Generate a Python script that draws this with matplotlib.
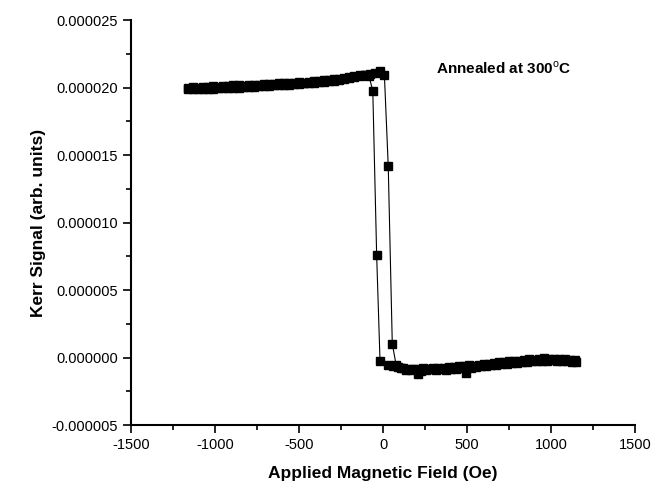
import numpy as np
import matplotlib
matplotlib.use('Agg')
import matplotlib.pyplot as plt
from matplotlib.ticker import MultipleLocator, FormatStrFormatter

plt.rcParams['font.family'] = ['Liberation Sans', 'DejaVu Sans']
plt.rcParams['axes.unicode_minus'] = False
plt.rcParams['mathtext.fontset'] = 'custom'
plt.rcParams['mathtext.rm'] = 'Liberation Sans'
plt.rcParams['mathtext.bf'] = 'Liberation Sans:bold'

# Feld aufsteigend (Oe) und Kerr-Signal (in 1e-6)
h_up = [-1160, -1130, -1100, -1070, -1040, -1010, -980, -950, -920, -890,
        -860, -830, -800, -770, -740, -710, -680, -650, -620, -590,
        -560, -530, -500, -470, -440, -410, -380, -350, -320, -290,
        -260, -230, -200, -170, -140, -110, -80, -50, -20, 8,
        31, 55, 78,
        105, 135, 165, 195, 225, 255, 285, 315, 345, 375,
        405, 435, 465, 495, 525, 555, 585, 615, 645, 675,
        705, 735, 765, 795, 825, 855, 885, 915, 945, 975,
        1005, 1035, 1065, 1095, 1125, 1150]
k_up = [19.98, 20.02, 20.00, 20.05, 20.03, 20.08, 20.06, 20.12, 20.10, 20.15,
        20.18, 20.14, 20.20, 20.22, 20.18, 20.25, 20.28, 20.24, 20.30, 20.33,
        20.30, 20.36, 20.38, 20.35, 20.42, 20.45, 20.48, 20.52, 20.55, 20.60,
        20.65, 20.72, 20.80, 20.88, 20.92, 20.95, 21.00, 21.10, 21.20, 20.95,
        14.15, 1.02, -0.55,
        -0.80, -0.90, -0.95, -0.88, -1.00, -0.95, -0.88, -0.92, -0.85, -0.90,
        -0.82, -0.86, -0.78, -1.15, -0.74, -0.70, -0.66, -0.62, -0.56, -0.58,
        -0.50, -0.46, -0.42, -0.38, -0.35, -0.32, -0.28, -0.25, -0.28, -0.22,
        -0.20, -0.24, -0.22, -0.27, -0.30, -0.32]

# Feld absteigend
h_down = [1140, 1110, 1080, 1050, 1020, 990, 960, 930, 900, 870,
          840, 810, 780, 750, 720, 690, 660, 630, 600, 570,
          540, 510, 480, 450, 420, 390, 360, 330, 300, 270,
          240, 210, 180, 150, 120, 90, 60, 30,
          -18, -38, -61, -84,
          -110, -140, -170, -200, -230, -260, -290, -320, -350, -380,
          -410, -440, -470, -500, -530, -560, -590, -620, -650, -680,
          -710, -740, -770, -800, -830, -860, -890, -920, -950, -980,
          -1010, -1040, -1070, -1100, -1130, -1160]
k_down = [-0.20, -0.15, -0.10, -0.12, -0.08, -0.10, -0.05, -0.10, -0.15, -0.12,
          -0.18, -0.22, -0.28, -0.26, -0.35, -0.33, -0.42, -0.48, -0.46, -0.55,
          -0.60, -0.58, -0.66, -0.63, -0.72, -0.70, -0.75, -0.78, -0.74, -0.82,
          -0.80, -1.20, -0.85, -0.82, -0.78, -0.72, -0.65, -0.52,
          -0.25, 7.58, 19.76, 20.85,
          20.90, 20.85, 20.78, 20.70, 20.62, 20.58, 20.50, 20.45, 20.40, 20.38,
          20.35, 20.32, 20.30, 20.28, 20.25, 20.22, 20.20, 20.18, 20.15, 20.13,
          20.10, 20.08, 20.05, 20.05, 20.02, 20.00, 19.98, 19.96, 19.95, 19.93,
          19.92, 19.90, 19.92, 19.90, 19.88, 19.90]

fig = plt.figure(figsize=(6.65, 4.88), dpi=100)
ax = fig.add_axes([0.197, 0.129, 0.758, 0.830])

for h, k in [(h_up, k_up), (h_down, k_down)]:
    ax.plot(h, np.array(k) * 1e-6, color='black', marker='s', markersize=6.3,
            linewidth=0.8)

ax.set_xlim(-1500, 1500)
ax.set_ylim(-0.000005, 0.000025)
ax.xaxis.set_major_locator(MultipleLocator(500))
ax.xaxis.set_minor_locator(MultipleLocator(250))
ax.yaxis.set_major_locator(MultipleLocator(0.000005))
ax.yaxis.set_minor_locator(MultipleLocator(0.0000025))
ax.yaxis.set_major_formatter(FormatStrFormatter('%.6f'))

for s in ['top', 'right']:
    ax.spines[s].set_visible(False)
for s in ['left', 'bottom']:
    ax.spines[s].set_linewidth(1.5)
ax.tick_params(which='major', direction='out', length=6, width=1.2, labelsize=10.5)
ax.tick_params(which='minor', direction='out', length=3.5, width=1.2)

ax.set_xlabel('Applied Magnetic Field (Oe)', fontsize=12.5, fontweight='bold',
              labelpad=10)
ax.set_ylabel('Kerr Signal (arb. units)', fontsize=12.5, fontweight='bold')

ax.text(315, 0.0000214, r'Annealed at 300$^{\mathrm{o}}$C', fontsize=11,
        fontweight='bold', ha='left', va='center')

plt.savefig('out.png', dpi=100)
